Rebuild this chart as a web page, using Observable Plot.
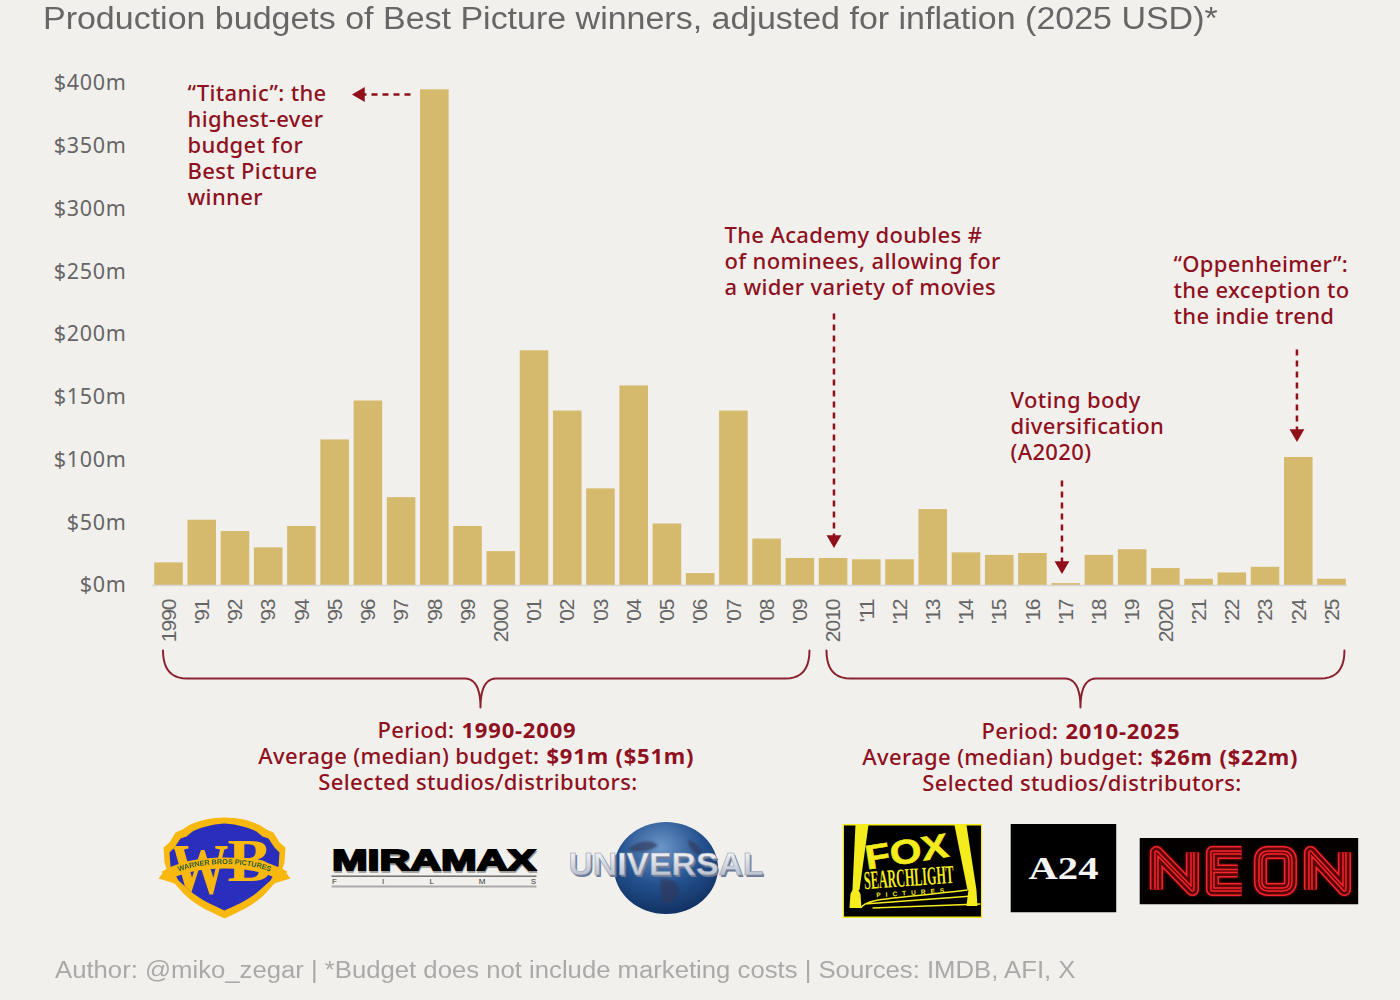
<!DOCTYPE html>
<html><head><meta charset="utf-8">
<script src="https://cdn.jsdelivr.net/npm/d3@7"></script>
<script src="https://cdn.jsdelivr.net/npm/@observablehq/plot@0.6"></script>
<style>
html,body{margin:0;padding:0;background:#f2f0ed;width:1400px;height:1000px;overflow:hidden}
#title{height:40px;box-sizing:border-box;padding:1px 0 0 43px;white-space:nowrap}
#title span{display:inline-block;font:31px/36px "Liberation Sans",Arial,sans-serif;color:#666;transform:scaleX(1.096);transform-origin:left center}
#chart svg{display:block;background:transparent}
#caption{height:50px;box-sizing:border-box;padding:7px 0 0 55px;white-space:nowrap}
#caption span{display:inline-block;font:23px/26px "Liberation Sans",Arial,sans-serif;color:#a9a9a9;transform:scaleX(1.117);transform-origin:left center}
</style></head><body>
<div id="title"><span>Production budgets of Best Picture winners, adjusted for inflation (2025 USD)*</span></div>
<div id="chart"></div>
<div id="caption"><span>Author: @miko_zegar | *Budget does not include marketing costs | Sources: IMDB, AFI, X</span></div>
<script>
const years = d3.range(1990, 2026);
const yearLabels = ["1990","'91","'92","'93","'94","'95","'96","'97","'98","'99","2000","'01","'02","'03","'04","'05","'06","'07","'08","'09","2010","'11","'12","'13","'14","'15","'16","'17","'18","'19","2020","'21","'22","'23","'24","'25"];
const budgets = [18,52,43,30,47,116,147,70,395,47,27,187,139,77,159,49,9.5,139,37,21.5,21.5,20.5,20.5,60.5,26,24,25.5,1.5,24,28.5,13.5,5,10,14.5,102,5];
const yTicks = [0,50,100,150,200,250,300,350,400];
const barData = years.map((year,i)=>({year,budget:budgets[i]}));

const RED = "#8f1020", BRACE = "#8a2230", GOLD = "#d5b96c", GREY = "#666";
const BODY = '"Noto Sans","Open Sans",sans-serif';
const NARROW = '"Liberation Sans Narrow","Liberation Sans",sans-serif';

// page pixels -> data units, for annotations that live outside the bars
const X = px => 1990 + (px - 168.5) / 33.23;
const Y = py => (585 - py) / 1.255;

const notes = [
  {text:"“Titanic”: the", x:187, y:93},{text:"highest-ever", x:187, y:119},{text:"budget for", x:187, y:145},{text:"Best Picture", x:187, y:171},{text:"winner", x:187, y:197},
  {text:"The Academy doubles #", x:724, y:235},{text:"of nominees, allowing for", x:724, y:261},{text:"a wider variety of movies", x:724, y:287},
  {text:"“Oppenheimer”:", x:1173, y:264},{text:"the exception to", x:1173, y:290},{text:"the indie trend", x:1173, y:316},
  {text:"Voting body", x:1010, y:400},{text:"diversification", x:1010, y:426},{text:"(A2020)", x:1010, y:452}
];
const arrows = [
  {x1:410,y1:94,x2:360,y2:94,rot:-90},
  {x1:833.5,y1:313,x2:833.5,y2:539,rot:180},
  {x1:1061.5,y1:480,x2:1061.5,y2:565,rot:180},
  {x1:1296.5,y1:349,x2:1296.5,y2:433,rot:180}
];
const regular = [
  {text:"Period: ", x:460, y:730},{text:"Average (median) budget: ", x:545, y:756},
  {text:"Period: ", x:1064, y:731},{text:"Average (median) budget: ", x:1149, y:757}
];
const bold = [
  {text:"1990-2009", x:461, y:730},{text:"$91m ($51m)", x:546, y:756},
  {text:"2010-2025", x:1065, y:731},{text:"$26m ($22m)", x:1150, y:757}
];
const centred = [{text:"Selected studios/distributors:", x:477.5, y:782},{text:"Selected studios/distributors:", x:1081.5, y:783}];

function quad(a,b,c,n=10){const o=[];for(let i=0;i<=n;i++){const t=i/n,u=1-t;o.push([u*u*a[0]+2*u*t*b[0]+t*t*c[0],u*u*a[1]+2*u*t*b[1]+t*t*c[1]]);}return o;}
function brace(x0,x1,xm,id){
  const top=650, mid=678, tip=707;
  return [
    ...quad([x0,top],[x0,mid],[x0+24,mid]),
    ...quad([xm-16,mid],[xm,mid],[xm,tip]),
    ...quad([xm,tip],[xm,mid],[xm+16,mid]),
    ...quad([x1-24,mid],[x1,mid],[x1,top])
  ].map(([x,y])=>({x,y,id}));
}
const braces = [...brace(162.5,809,480,"a"),...brace(826,1344,1080,"b")];

const uri = s => "data:image/svg+xml;charset=utf-8," + encodeURIComponent(s);
const wb = `<svg xmlns="http://www.w3.org/2000/svg" width="264" height="204" viewBox="0 0 132 102">
<defs><clipPath id="c"><path d="M66 7 C52 8 42 11 34 15 L28 20 L22 22 L16 31 L11 36 L12 50 L20 64 L30 73 C42 84 58 90 66 94 C74 90 90 84 102 73 L112 64 L120 50 L121 36 L116 31 L110 22 L104 20 L98 15 C90 11 80 8 66 7Z"/></clipPath>
<filter id="s"><feGaussianBlur stdDeviation=".35"/></filter></defs>
<g filter="url(#s)">
<path d="M66 1 C50 1 38 5 30 9 L24 13 L17 16 L11 26 L5 31 L6 46 L8 52 L0 62 L10 65 L16 67 L26 78 C38 90 56 97 66 102 C76 97 94 90 106 78 L116 67 L122 65 L132 62 L124 52 L126 46 L127 31 L121 26 L115 16 L108 13 L102 9 C94 5 82 1 66 1Z" fill="#f8b80c"/>
<path d="M66 7 C52 8 42 11 34 15 L28 20 L22 22 L16 31 L11 36 L12 50 L20 64 L30 73 C42 84 58 90 66 94 C74 90 90 84 102 73 L112 64 L120 50 L121 36 L116 31 L110 22 L104 20 L98 15 C90 11 80 8 66 7Z" fill="#2a2ebd"/>
<g clip-path="url(#c)" font-family="Liberation Serif" font-weight="700" fill="#f8b80c">
<text x="41" y="76" text-anchor="middle" textLength="58" lengthAdjust="spacingAndGlyphs" font-size="72">W</text>
<text x="91" y="64" text-anchor="middle" textLength="44" lengthAdjust="spacingAndGlyphs" font-size="62">B</text></g>
<path d="M6 60 C35 42 97 42 126 60" fill="none" stroke="#f8b80c" stroke-width="11"/>
<path id="t" d="M14 58 C40 44 92 44 118 58" fill="none"/>
<text font-family="Liberation Sans" font-weight="700" font-size="7.2" fill="#2c5a36"><textPath href="#t" startOffset="50%" text-anchor="middle">WARNER BROS PICTURES</textPath></text>
</g></svg>`;
const miramax = `<svg xmlns="http://www.w3.org/2000/svg" width="414" height="86" viewBox="0 0 207 43">
<text x="104" y="26" text-anchor="middle" textLength="204" lengthAdjust="spacingAndGlyphs" font-family="Liberation Sans" font-weight="700" font-size="29" fill="#999" stroke="#999" stroke-width="1.6">MIRAMAX</text>
<text x="103.5" y="24.5" text-anchor="middle" textLength="204" lengthAdjust="spacingAndGlyphs" font-family="Liberation Sans" font-weight="700" font-size="29" fill="#000" stroke="#000" stroke-width="1.8">MIRAMAX</text>
<rect x="1" y="30" width="205" height="1.4" fill="#666"/><rect x="1" y="40" width="205" height="2" fill="#aaa"/>
<text x="103.5" y="38.5" text-anchor="middle" textLength="204" font-family="Liberation Sans" font-size="8" fill="#333">F    I    L    M    S</text>
</svg>`;
const universal = `<svg xmlns="http://www.w3.org/2000/svg" width="394" height="186" viewBox="0 0 197 93">
<defs><radialGradient id="g" cx=".45" cy=".28" r=".8"><stop offset="0" stop-color="#6d97c9"/><stop offset=".5" stop-color="#24528f"/><stop offset="1" stop-color="#0d2a58"/></radialGradient>
<linearGradient id="s" x1="0" y1="0" x2="0" y2="1"><stop offset="0" stop-color="#fff"/><stop offset="1" stop-color="#aab4c6"/></linearGradient>
<filter id="f"><feGaussianBlur stdDeviation="1.2"/></filter></defs>
<ellipse cx="98" cy="46.5" rx="52" ry="46" fill="url(#g)"/>
<g fill="#31395a" opacity=".65" filter="url(#f)"><path d="M92 58 C102 56 114 62 110 72 C106 82 98 86 94 78Z M60 28 C70 18 86 18 90 24 C82 30 70 32 60 28Z M120 18 C128 20 136 30 134 34 C126 32 120 26 120 18Z"/></g>
<text x="99.5" y="55" text-anchor="middle" textLength="195" lengthAdjust="spacingAndGlyphs" font-family="Liberation Sans" font-weight="700" font-size="31" fill="#6f7a94">UNIVERSAL</text>
<text x="98" y="53" text-anchor="middle" textLength="195" lengthAdjust="spacingAndGlyphs" font-family="Liberation Sans" font-weight="700" font-size="31" fill="url(#s)" stroke="#8c96ab" stroke-width=".5">UNIVERSAL</text>
</svg>`;
const fox = `<svg xmlns="http://www.w3.org/2000/svg" width="280" height="188" viewBox="0 0 140 94">
<rect x=".75" y=".75" width="138.5" height="92.5" fill="#000" stroke="#f4ec1c" stroke-width="1.5"/>
<g fill="#f4ec1c"><path d="M13 1 L26 1 L17 66 L10 66Z"/><path d="M112 1 L124 1 L134 66 L125 66Z"/>
<path d="M7 84 L8 70 L10 66 L16 66 L18 70 L19 84Z"/><path d="M124 82 L126 66 L134 66 L135 82Z"/>
<text x="66" y="39" text-anchor="middle" textLength="84" lengthAdjust="spacingAndGlyphs" font-family="Liberation Sans" font-weight="700" font-size="34" stroke="#f4ec1c" stroke-width=".6" transform="rotate(-9 66 39)">FOX</text>
<text x="67" y="62" text-anchor="middle" textLength="90" lengthAdjust="spacingAndGlyphs" font-family="Liberation Sans Narrow" font-weight="700" font-size="26" transform="rotate(-4 67 62)">SEARCHLIGHT</text>
<text x="68" y="71" text-anchor="middle" textLength="68" font-family="Liberation Sans" font-weight="700" font-size="6.5" transform="rotate(-4 68 71)">PICTURES</text></g>
<path d="M18 84 C26 74 40 76 125 66 M22 80 L130 72 M30 84 L138 80" fill="none" stroke="#f4ec1c" stroke-width="1.4"/>
</svg>`;
const a24 = `<svg xmlns="http://www.w3.org/2000/svg" width="212" height="178" viewBox="0 0 106 89">
<rect width="106" height="89" fill="#000"/>
<text x="53" y="55" text-anchor="middle" textLength="70" lengthAdjust="spacingAndGlyphs" font-family="Liberation Serif" font-weight="700" font-size="31" fill="#f5f5f5">A24</text>
</svg>`;
const neonLetters = "M17 52 V15 L53 52 V15 M102 15 H73 V52 H102 M73 33.5 H98 M129 15 H143 Q151 15 151 23 V44 Q151 52 143 52 H129 Q121 52 121 44 V23 Q121 15 129 15Z M171 52 V15 L205 52 V15";
const neon = `<svg xmlns="http://www.w3.org/2000/svg" width="438" height="134" viewBox="0 0 219 67">
<defs><filter id="b" x="-10%" y="-20%" width="120%" height="140%"><feGaussianBlur stdDeviation="1.1"/></filter></defs>
<rect width="219" height="67" fill="#050000"/>
<g fill="none" stroke-linejoin="round">
<path d="${neonLetters}" stroke="#f0141c" stroke-width="14" filter="url(#b)" opacity=".55"/>
<path d="${neonLetters}" stroke="#f6262c" stroke-width="13"/>
<path d="${neonLetters}" stroke="#5a0408" stroke-width="10"/>
<path d="${neonLetters}" stroke="#f6262c" stroke-width="4.5"/>
<path d="${neonLetters}" stroke="#6b060a" stroke-width="1.6"/>
</g></svg>`;
const logos = [
  {src:uri(wb), x:224, y:867, w:132, h:102},
  {src:uri(miramax), x:433.5, y:866.5, w:207, h:43},
  {src:uri(universal), x:666, y:867.5, w:197, h:93},
  {src:uri(fox), x:912, y:870.5, w:140, h:94},
  {src:uri(a24), x:1063, y:867.5, w:106, h:89},
  {src:uri(neon), x:1248.5, y:870.5, w:219, h:67}
];

const textBase = {fontFamily:BODY, fontSize:22, fontWeight:500, fill:RED};
const pt = (arr,o) => Plot.text(arr,{x:d=>X(d.x),y:d=>Y(d.y),text:"text",...textBase,...o});

const plot = Plot.plot({
  width:1400, height:910,
  marginTop:43, marginBottom:365, marginLeft:135, marginRight:0,
  x:{domain:[1990,2025], range:[168.5,1331.5]},
  y:{domain:[0,400]},
  style:{background:"transparent", overflow:"visible"},
  marks:[
    Plot.rectY(barData,{x1:d=>d.year-0.43,x2:d=>d.year+0.43,y:"budget",fill:GOLD}),
    Plot.ruleY([0],{x1:X(152),x2:X(1347),stroke:"#d9d7d5",strokeWidth:1.5}),
    Plot.axisY({ticks:yTicks,tickFormat:d=>`$${d}m`,tickSize:0,label:null,fontSize:21.5,fontFamily:BODY,color:GREY}),
    Plot.axisX({ticks:years,tickFormat:d=>yearLabels[d-1990],tickSize:0,tickPadding:14,tickRotate:-90,label:null,fontSize:21,fontFamily:NARROW,color:GREY}),
    Plot.line(braces,{x:d=>X(d.x),y:d=>Y(d.y),z:"id",stroke:BRACE,strokeWidth:2,curve:"linear"}),
    pt(notes,{textAnchor:"start"}),
    pt(regular,{textAnchor:"end"}),
    pt(bold,{textAnchor:"start",fontWeight:700}),
    pt(centred,{textAnchor:"middle"}),
    Plot.link(arrows,{x1:d=>X(d.x1),y1:d=>Y(d.y1),x2:d=>X(d.x2),y2:d=>Y(d.y2),stroke:"#8f0f1a",strokeWidth:2.5,strokeDasharray:"6 5"}),
    Plot.dot(arrows,{x:d=>X(d.x2),y:d=>Y(d.y2),symbol:"triangle",r:5.5,fill:"#8f0f1a",rotate:"rot"}),
    Plot.image(logos,{x:d=>X(d.x),y:d=>Y(d.y),src:"src",width:"w",height:"h"})
  ]
});
// the reference's type is set slightly wider than the installed fonts
plot.querySelectorAll('text').forEach(t=>t.style.letterSpacing="0.35px");
plot.querySelectorAll('[aria-label="x-axis tick label"] text').forEach(t=>t.style.letterSpacing="-1px");
plot.querySelectorAll('[aria-label="y-axis tick label"] text').forEach(t=>t.style.letterSpacing="0.7px");
plot.querySelectorAll('[font-weight="700"] text').forEach(t=>t.style.letterSpacing="0.8px");
document.getElementById("chart").append(plot);
</script></body></html>
